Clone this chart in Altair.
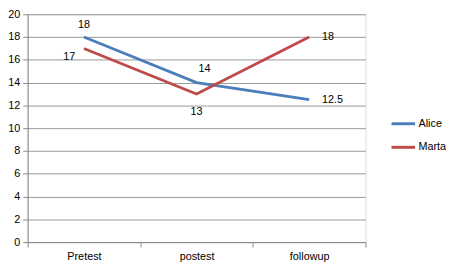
import altair as alt
import pandas as pd

categories = ["Pretest", "postest", "followup"]
alice = [18, 14, 12.5]
marta = [17, 13, 18]
series = ["Alice", "Marta"]
colors = ["#4a7ebb", "#be4b48"]

rows = []
for s, vals in zip(series, [alice, marta]):
    for c, v in zip(categories, vals):
        rows.append({"session": c, "score": v, "name": s})
df = pd.DataFrame(rows)

FONT = "Liberation Sans"

x = alt.X("session:N", sort=categories, title=None,
          scale=alt.Scale(type="band", paddingInner=0, paddingOuter=0),
          axis=alt.Axis(labelAngle=0, tickBand="extent", grid=False, tickSize=5,
                        labelPadding=4, domainColor="#888888", tickColor="#888888",
                        labelFont=FONT, labelFontSize=11, labelColor="#000000"))
y = alt.Y("score:Q", title=None,
          scale=alt.Scale(domain=[0, 20], nice=False),
          axis=alt.Axis(values=list(range(0, 21, 2)), tickSize=5, labelPadding=3,
                        domainColor="#888888", tickColor="#888888", gridColor="#999999",
                        labelFont=FONT, labelFontSize=11, labelColor="#000000"))

color = alt.Color("name:N", scale=alt.Scale(domain=series, range=colors),
                  legend=alt.Legend(title=None, orient="none", legendX=369, legendY=98,
                                    symbolType="stroke", symbolSize=576, symbolStrokeWidth=3,
                                    labelFont=FONT, labelFontSize=11, labelColor="#000000",
                                    labelOffset=2, rowPadding=4, padding=0))

base = alt.Chart(df)
lines = base.mark_line(strokeWidth=2.8).encode(x=x, y=y, color=color)

txt = dict(font=FONT, fontSize=11, color="#000000")
lab_alice = base.transform_filter(
    (alt.datum.name == "Alice") & (alt.datum.session == "Pretest")
).mark_text(dy=-12, **txt).encode(x=x, y=y, text="score:Q")
lab_alice2 = base.transform_filter(
    (alt.datum.name == "Alice") & (alt.datum.session == "postest")
).mark_text(dy=-14, dx=8, **txt).encode(x=x, y=y, text="score:Q")
lab_marta = base.transform_filter(
    (alt.datum.name == "Marta") & (alt.datum.session == "Pretest")
).mark_text(dy=9, dx=-15, **txt).encode(x=x, y=y, text="score:Q")
lab_marta2 = base.transform_filter(
    (alt.datum.name == "Marta") & (alt.datum.session == "postest")
).mark_text(dy=18, **txt).encode(x=x, y=y, text="score:Q")
lab_end = base.transform_filter(
    alt.datum.session == "followup"
).mark_text(align="left", dx=13, **txt).encode(x=x, y=y, text="score:Q")

chart = alt.layer(lines, lab_alice, lab_alice2, lab_marta, lab_marta2, lab_end).properties(
    width=344, height=232,
    autosize=alt.AutoSizeParams(type="none"),
    padding={"left": 20, "top": 4, "right": 82, "bottom": 24},
).configure_view(stroke=None).configure(background="#ffffff")

chart.save("out.html", embed_options={"renderer": "svg", "actions": False})
